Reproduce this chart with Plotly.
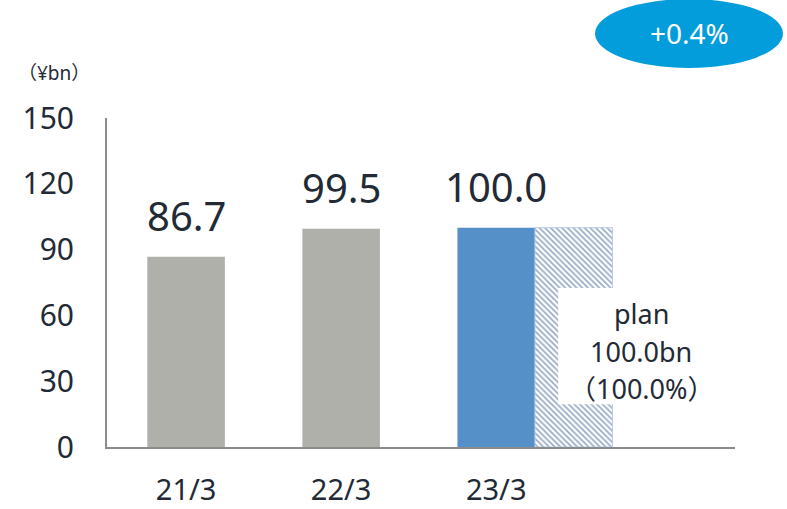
import plotly.graph_objects as go

# Fiscal years and results (¥bn)
years = ["21/3", "22/3", "23/3"]
results = [86.7, 99.5, 100.0]
bar_colors = ["#b0b0ab", "#b0b0ab", "#5591c8"]
plan_value = 100.0
plan_ratio = 100.0
growth_label = "+0.4%"
y_ticks = [0, 30, 60, 90, 120, 150]
categories = years + [" "]

FONT = "Noto Sans, Noto Sans CJK JP, sans-serif"
TXT = "#222a36"

# plot area in pixels (for paper-referenced decorations)
L, R, T, B = 107, 735, 118, 447
W, H = R - L, B - T


def px(x):
    return (x - L) / W


def py(y):
    return (B - y) / H


fig = go.Figure()

# actual results
fig.add_trace(go.Bar(
    x=years, y=results,
    marker=dict(color=bar_colors, line=dict(width=0)),
    width=0.5, offset=-0.25,
    hoverinfo="skip", showlegend=False,
))

# plan bar beside the latest year (hatched)
fig.add_trace(go.Bar(
    x=[years[-1]], y=[plan_value],
    marker=dict(
        color="white",
        line=dict(color="#b8cce6", width=1),
        pattern=dict(shape="\\", fgcolor="#34578c", bgcolor="white",
                     size=4, solidity=0.45),
    ),
    width=0.5, offset=0.25,
    hoverinfo="skip", showlegend=False,
))

# value labels above the bars
for yr, v in zip(years, results):
    fig.add_annotation(
        x=yr, y=v, text=f"{v:.1f}", showarrow=False,
        xanchor="center", yanchor="bottom", yshift=12,
        font=dict(family=FONT, size=40, color=TXT),
    )

# white box with plan details over the hatched bar
fig.add_shape(
    type="rect", xref="x", yref="y",
    x0=2.4, x1=3.4, y0=19.5, y1=72.5,
    fillcolor="white", line=dict(width=0), layer="above",
)
plan_lines = ["plan", f"{plan_value:.1f}bn", f"（{plan_ratio:.1f}%）"]
for line, yc in zip(plan_lines, [313, 351, 388]):
    fig.add_annotation(
        x=px(641), y=py(yc), xref="paper", yref="paper",
        xanchor="center", yanchor="middle",
        text=line, showarrow=False,
        font=dict(family=FONT, size=27, color=TXT),
    )

# growth badge
fig.add_shape(
    type="circle", xref="paper", yref="paper",
    x0=px(595), x1=px(783), y0=py(68), y1=py(-1),
    fillcolor="#039ddb", line=dict(width=0),
)
fig.add_annotation(
    x=px(689), y=py(33), xref="paper", yref="paper",
    xanchor="center", yanchor="middle",
    text=growth_label, showarrow=False,
    font=dict(family=FONT, size=28, color="white"),
)

# unit label
fig.add_annotation(
    x=px(54), y=py(73), xref="paper", yref="paper",
    xanchor="center", yanchor="middle",
    text="（¥bn）", showarrow=False,
    font=dict(family=FONT, size=19, color=TXT),
)

fig.update_layout(
    width=787, height=509,
    margin=dict(l=L, r=787 - R, t=T, b=509 - B),
    paper_bgcolor="white", plot_bgcolor="white",
    barmode="overlay",
    font=dict(family=FONT, color=TXT),
    xaxis=dict(
        type="category", categoryorder="array", categoryarray=categories,
        range=[-0.51, 3.54], automargin=False,
        showline=True, linecolor="#8c8c8c", linewidth=2,
        showgrid=False, zeroline=False, ticks="",
        tickfont=dict(size=29, color=TXT),
        ticklabelstandoff=16,
    ),
    yaxis=dict(
        range=[0, 150], tickvals=y_ticks, automargin=False,
        showline=True, linecolor="#8c8c8c", linewidth=2,
        showgrid=False, zeroline=False, ticks="",
        tickfont=dict(size=30, color=TXT),
        ticklabelstandoff=25,
    ),
)

fig.write_html("out.html")
